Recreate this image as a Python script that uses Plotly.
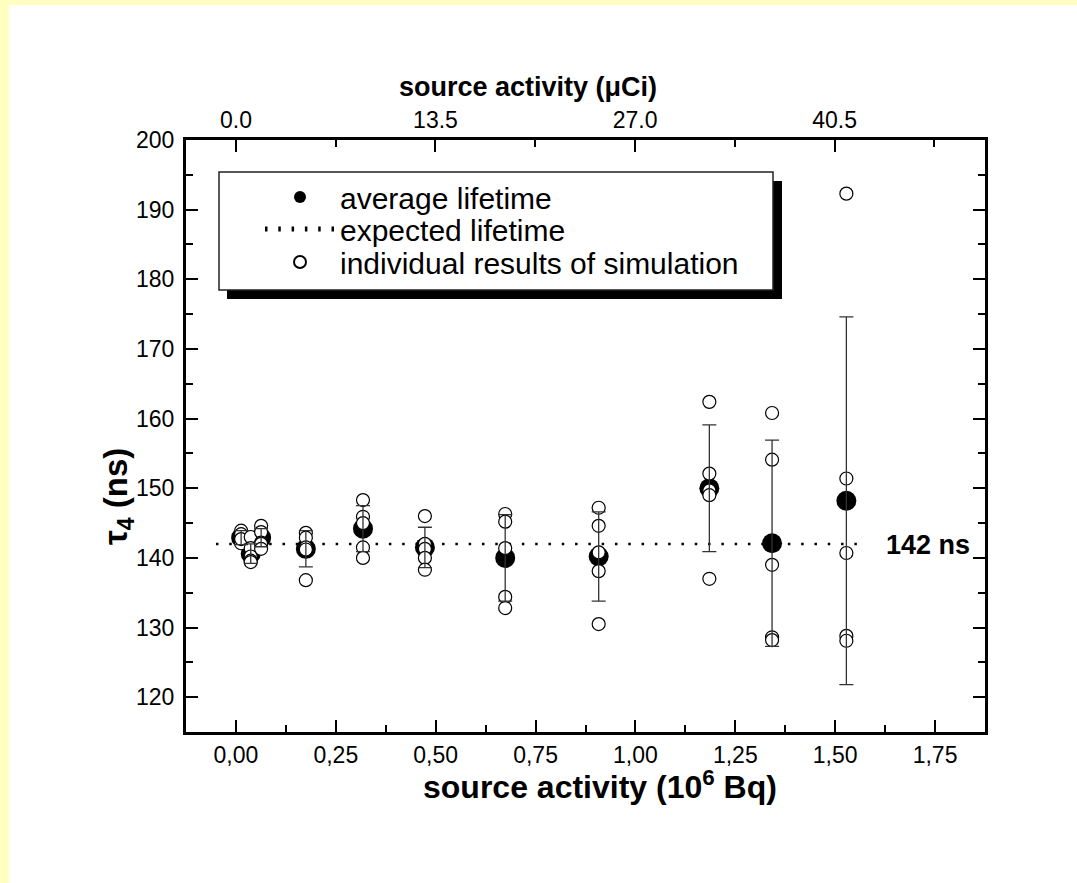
import plotly.graph_objects as go

# ---------------- data ----------------
x_avg = [0.013, 0.037, 0.063, 0.175, 0.318, 0.473, 0.674, 0.908, 1.185, 1.342, 1.528]
tau_avg = [142.9, 140.6, 142.9, 141.3, 144.2, 141.5, 140.0, 140.2, 150.0, 142.1, 148.2]
tau_err = [1.0, 1.4, 1.3, 2.6, 3.3, 2.9, 6.2, 6.4, 9.1, 14.8, 26.4]

ind_x = ([0.013] * 5 + [0.037] * 5 + [0.063] * 5 + [0.175] * 5 + [0.318] * 5 +
         [0.473] * 5 + [0.674] * 5 + [0.908] * 5 + [1.185] * 5 + [1.342] * 5 + [1.528] * 5)
ind_tau = [143.9, 143.4, 142.3, 142.1, 142.7,
           143.0, 141.4, 140.2, 139.6, 139.4,
           144.6, 143.7, 142.2, 142.0, 141.3,
           143.6, 142.9, 141.5, 141.2, 136.8,
           148.3, 145.9, 145.0, 141.5, 140.0,
           146.0, 142.0, 141.3, 140.0, 138.3,
           146.3, 145.2, 141.4, 134.4, 132.8,
           147.2, 144.6, 140.8, 138.1, 130.5,
           162.4, 152.1, 149.7, 149.0, 137.0,
           160.8, 154.1, 139.0, 128.6, 128.2,
           192.3, 151.4, 140.7, 128.8, 128.1]

expected_tau = 142
expected_x = [-0.05, 1.575]

x_ticks = [0.0, 0.25, 0.5, 0.75, 1.0, 1.25, 1.5, 1.75]
x_ticktext = ["0,00", "0,25", "0,50", "0,75", "1,00", "1,25", "1,50", "1,75"]
top_ticks = [0.0, 13.5, 27.0, 40.5]
top_ticktext = ["0.0", "13.5", "27.0", "40.5"]
y_ticks = [120, 130, 140, 150, 160, 170, 180, 190, 200]
MBQ_PER_UCI = 0.037

# ---------------- layout geometry ----------------
W, H = 1077, 883
L, R, T, B = 186, 985, 140, 732
XR = [-0.125, 1.875]
YR = [115, 200]
FONT = "Liberation Sans, Arial, sans-serif"


def px(xp):
    return (xp - L) / (R - L)


def py(yp):
    return (B - yp) / (B - T)


fig = go.Figure()

fig.add_trace(go.Scatter(
    x=expected_x, y=[expected_tau, expected_tau], mode="lines",
    line=dict(color="black", width=2.5, dash="2.5px,10.8px"),
    name="expected lifetime", legend="legend2", hoverinfo="skip"))

fig.add_trace(go.Scatter(
    x=x_avg, y=tau_avg, mode="markers",
    marker=dict(symbol="circle", size=20, color="black", line=dict(width=0)),
    name="average lifetime", legend="legend"))

fig.add_trace(go.Scatter(
    x=ind_x, y=ind_tau, mode="markers",
    marker=dict(symbol="circle", size=13, color="white", line=dict(color="black", width=1.2)),
    name="individual results of simulation", legend="legend3"))

fig.add_trace(go.Scatter(
    x=x_avg, y=tau_avg, mode="markers",
    marker=dict(size=1, color="rgba(0,0,0,0)"),
    error_y=dict(type="data", array=tau_err, visible=True, color="#333333", thickness=1.3, width=7),
    showlegend=False, hoverinfo="skip"))

# dummy trace for top axis
fig.add_trace(go.Scatter(x=[None], y=[None], xaxis="x2", showlegend=False, hoverinfo="skip"))

axis_common = dict(
    showline=True, linecolor="black", linewidth=3, ticks="inside", ticklen=12, tickwidth=2,
    tickcolor="black", showgrid=False, zeroline=False,
    tickfont=dict(family=FONT, size=23, color="black"))

fig.update_layout(
    width=W, height=H,
    margin=dict(l=L, r=W - R, t=T, b=H - B, pad=0),
    paper_bgcolor="white", plot_bgcolor="white",
    xaxis=dict(range=XR, tickmode="array", tickvals=x_ticks, ticktext=x_ticktext,
               minor=dict(dtick=0.125, tick0=0, ticks="inside", ticklen=7, tickwidth=2, tickcolor="black"),
               mirror=False, **axis_common),
    xaxis2=dict(range=[XR[0] / MBQ_PER_UCI, XR[1] / MBQ_PER_UCI], overlaying="x", side="top",
                anchor="y", tickmode="array", tickvals=top_ticks, ticktext=top_ticktext,
                minor=dict(dtick=6.75, tick0=0, ticks="inside", ticklen=7, tickwidth=2, tickcolor="black"),
                **axis_common),
    yaxis=dict(range=YR, tickmode="array", tickvals=y_ticks, ticklabelstandoff=4,
               minor=dict(dtick=5, tick0=0, ticks="inside", ticklen=7, tickwidth=2, tickcolor="black"),
               mirror="ticks", **axis_common),
    showlegend=True,
)

leg_common = dict(bgcolor="rgba(0,0,0,0)", borderwidth=0, font=dict(family=FONT, size=30, color="black"),
                  itemwidth=70, itemsizing="constant", xanchor="left", yanchor="middle",
                  x=px(260))
fig.update_layout(
    legend=dict(y=py(197), **leg_common),
    legend2=dict(y=py(229), **leg_common),
    legend3=dict(y=py(262), **leg_common),
)

shapes = [
    # yellow frame
    dict(type="rect", xref="paper", yref="paper", x0=px(0), x1=px(9), y0=py(H), y1=py(0),
         fillcolor="#FFFFC0", line=dict(width=0), layer="below"),
    dict(type="rect", xref="paper", yref="paper", x0=px(0), x1=px(W), y0=py(5), y1=py(0),
         fillcolor="#FFFFC0", line=dict(width=0), layer="below"),
    # legend shadow and box
    dict(type="rect", xref="paper", yref="paper", x0=px(227), x1=px(782), y0=py(299), y1=py(181),
         fillcolor="black", line=dict(width=0), layer="above"),
    dict(type="rect", xref="paper", yref="paper", x0=px(219), x1=px(773), y0=py(290), y1=py(172),
         fillcolor="white", line=dict(color="#222222", width=1.5), layer="above"),
]
fig.update_layout(shapes=shapes)

annotations = [
    dict(text="<b>source activity (10<sup>6</sup> Bq)</b>", xref="paper", yref="paper",
         x=px(600), y=py(785), xanchor="center", yanchor="middle", showarrow=False,
         font=dict(family=FONT, size=32, color="black")),
    dict(text="<b>source activity (\u03bcCi)</b>", xref="paper", yref="paper",
         x=px(528), y=py(87), xanchor="center", yanchor="middle", showarrow=False,
         font=dict(family=FONT, size=27, color="black")),
    dict(text="<b>\u03c4<sub>4</sub> (ns)</b>", xref="paper", yref="paper",
         x=px(118), y=py(497), xanchor="center", yanchor="middle", showarrow=False, textangle=-90,
         font=dict(family=FONT, size=33, color="black")),
    dict(text="<b>142 ns</b>", xref="paper", yref="paper",
         x=px(884), y=py(545), xanchor="left", yanchor="middle", showarrow=False,
         font=dict(family=FONT, size=27, color="black")),
]
fig.update_layout(annotations=annotations)

fig.write_html("out.html")
